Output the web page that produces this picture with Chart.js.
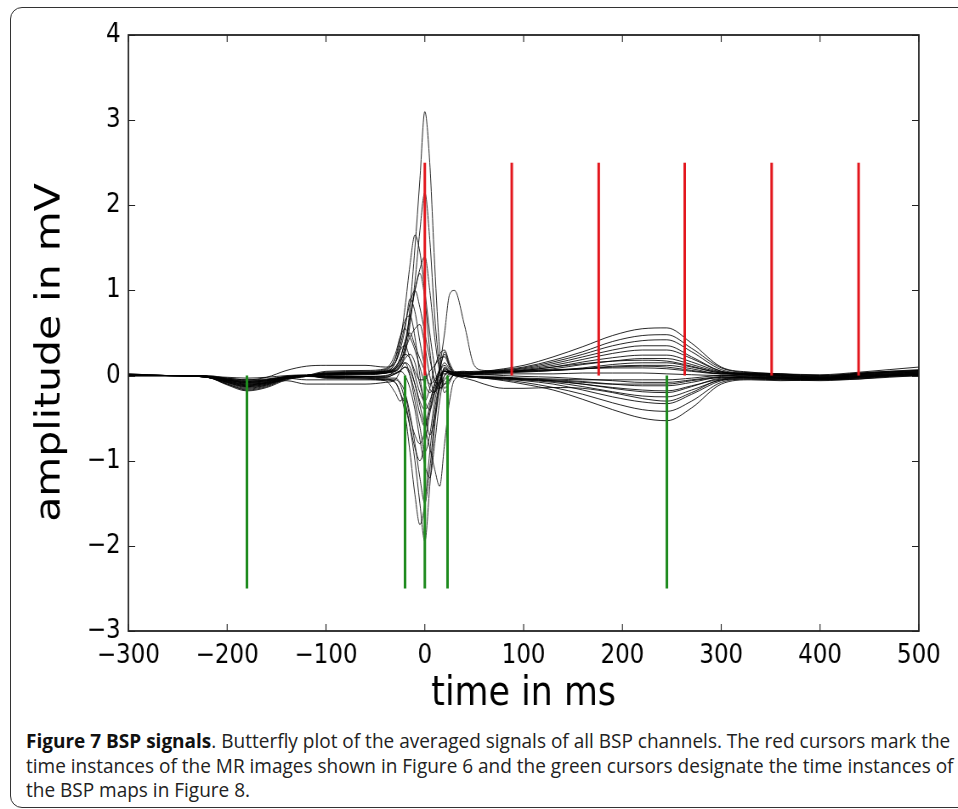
<!DOCTYPE html>
<html>
<head>
<meta charset="utf-8">
<script src="https://cdn.jsdelivr.net/npm/chart.js@4.4.0/dist/chart.umd.min.js"></script>
<style>
  html, body { margin: 0; padding: 0; background: #fff; }
  body { width: 958px; height: 809px; position: relative; overflow: hidden; }
  .frame { position: absolute; left: 10px; top: 7px; width: 970px; height: 799px;
           border: 1.5px solid #333; border-radius: 12px; }
  /* the figure is slightly condensed horizontally, so draw wider and squeeze */
  .plot { position: absolute; left: 0; top: 0; width: 1127px; height: 720px;
          transform: scaleX(0.85); transform-origin: 0 0; }
  .caption { position: absolute; left: 26px; top: 729px; font-family: "Open Sans", sans-serif;
             font-size: 20px; line-height: 24.5px; color: #222; white-space: nowrap;
             transform: scaleX(0.95); transform-origin: 0 0; }
  .caption b { color: #111; }
</style>
</head>
<body>
<div class="frame"></div>
<div class="plot"><canvas id="chart"></canvas></div>
<div class="caption"><b>Figure 7 BSP signals</b>. Butterfly plot of the averaged signals of all BSP channels. The red cursors mark the<br>time instances of the MR images shown in Figure 6 and the green cursors designate the time instances of<br>the BSP maps in Figure 8.</div>
<script>
// time axis in ms
const times = [-300, -260, -220, -200, -180, -160, -140, -120, -100, -60, -40,
  -30, -25, -20, -15, -10, -5, 0, 5, 10, 15, 20, 25, 30,
  40, 50, 60, 80, 100, 130, 160, 190, 220, 245, 270, 300,
  330, 360, 400, 440, 470, 500];

// averaged BSP channels (mV)
const ch01 = [0.02, 0.0, -0.01, -0.05, -0.08, -0.06, -0.02, 0.0, 0.03, 0.04, 0.05,
  0.06, 0.12, 0.3, 0.8, 1.5, 2.3, 3.1, 2.5, 1.3, 0.3, -0.15, -0.05, 0.03,
  0.05, 0.04, 0.05, 0.08, 0.12, 0.22, 0.34, 0.47, 0.55, 0.56, 0.38, 0.1,
  0.04, 0.02, -0.01, 0.03, 0.05, 0.07];
const ch02 = [0.01, 0.0, -0.01, -0.07, -0.12, -0.09, -0.03, 0.0, 0.02, 0.03, 0.04,
  0.05, 0.1, 0.25, 0.6, 1.1, 1.7, 2.15, 1.6, 0.7, 0.1, -0.2, -0.08, 0.02,
  0.04, 0.04, 0.05, 0.07, 0.1, 0.18, 0.28, 0.4, 0.47, 0.48, 0.32, 0.09,
  0.03, 0.01, -0.02, 0.02, 0.04, 0.05];
const ch03 = [0.02, 0.0, -0.02, -0.1, -0.16, -0.12, -0.04, -0.01, 0.04, 0.05, 0.07,
  0.2, 0.4, 0.8, 1.3, 1.65, 1.45, 1.0, 0.5, 0.1, -0.15, -0.1, 0.0, 0.03,
  0.03, 0.03, 0.04, 0.06, 0.09, 0.16, 0.25, 0.35, 0.41, 0.42, 0.28, 0.07,
  0.02, 0.0, -0.03, 0.01, 0.03, 0.04];
const ch04 = [0.0, 0.0, -0.01, -0.04, -0.07, -0.05, -0.01, 0.0, 0.01, 0.02, 0.03,
  0.08, 0.15, 0.35, 0.65, 1.0, 1.25, 1.4, 1.0, 0.45, 0.05, -0.1, -0.05, 0.01,
  0.02, 0.03, 0.04, 0.06, 0.08, 0.14, 0.22, 0.3, 0.35, 0.35, 0.22, 0.05,
  0.01, -0.01, -0.03, 0.0, 0.02, 0.03];
const ch05 = [0.01, 0.0, -0.02, -0.08, -0.13, -0.1, -0.03, 0.0, 0.02, 0.03, 0.05,
  0.15, 0.35, 0.6, 0.85, 1.0, 0.8, 0.5, 0.2, -0.05, -0.1, 0.0, 0.05, 0.04,
  0.04, 0.03, 0.04, 0.05, 0.07, 0.12, 0.19, 0.26, 0.3, 0.3, 0.2, 0.05,
  0.02, 0.01, -0.02, 0.02, 0.04, 0.04];
const ch06 = [0.0, 0.0, -0.02, -0.11, -0.18, -0.14, -0.05, -0.01, 0.03, 0.04, 0.06,
  0.2, 0.45, 0.65, 0.7, 0.45, 0.0, -0.4, -0.7, -0.5, -0.15, 0.1, 0.05, 0.02,
  0.02, 0.02, 0.03, 0.04, 0.06, 0.1, 0.16, 0.21, 0.24, 0.24, 0.16, 0.04,
  0.0, -0.03, -0.04, -0.01, 0.01, 0.02];
const ch07 = [0.01, 0.0, -0.01, -0.06, -0.1, -0.08, -0.02, 0.0, 0.05, 0.06, 0.08,
  0.25, 0.45, 0.55, 0.45, 0.3, 0.1, -0.1, -0.2, -0.1, 0.05, 0.15, 0.08, 0.03,
  0.03, 0.02, 0.03, 0.04, 0.05, 0.08, 0.13, 0.17, 0.2, 0.2, 0.13, 0.04,
  0.03, 0.02, 0.0, 0.03, 0.05, 0.06];
const ch08 = [0.0, 0.0, -0.01, -0.04, -0.06, -0.05, -0.01, 0.0, 0.0, 0.01, 0.03,
  0.15, 0.3, 0.35, 0.2, 0.0, -0.2, -0.3, -0.15, 0.1, 0.25, 0.3, 0.15, 0.05,
  0.03, 0.02, 0.02, 0.03, 0.04, 0.06, 0.09, 0.13, 0.15, 0.15, 0.1, 0.03,
  0.01, -0.02, -0.03, 0.0, 0.01, 0.03];
const ch09 = [0.0, 0.0, -0.02, -0.09, -0.15, -0.11, -0.03, 0.0, 0.01, 0.02, 0.03,
  0.05, 0.1, 0.2, 0.25, 0.15, -0.1, -0.3, -0.4, -0.2, 0.1, 0.5, 0.95, 1.0,
  0.6, 0.12, 0.06, 0.05, 0.05, 0.06, 0.08, 0.1, 0.11, 0.1, 0.06, 0.02,
  0.01, 0.0, -0.02, 0.01, 0.03, 0.04];
const ch10 = [0.0, 0.0, -0.01, -0.05, -0.09, -0.07, -0.02, 0.0, -0.02, -0.01, 0.0,
  0.03, 0.06, 0.1, 0.05, -0.1, -0.35, -0.6, -0.85, -1.1, -1.3, -0.8, -0.3, -0.05,
  0.0, -0.02, -0.03, -0.04, -0.05, -0.06, -0.08, -0.1, -0.1, -0.1, -0.06, -0.02,
  -0.01, -0.02, -0.04, -0.01, 0.01, 0.02];
const ch11 = [0.0, 0.0, 0.0, -0.03, -0.05, -0.04, -0.01, 0.0, -0.03, -0.04, -0.05,
  -0.05, -0.1, -0.3, -0.6, -1.0, -1.5, -1.95, -1.3, -0.6, -0.15, 0.05, 0.05, 0.02,
  -0.01, -0.02, -0.03, -0.06, -0.1, -0.17, -0.28, -0.4, -0.5, -0.53, -0.38, -0.1,
  -0.05, -0.06, -0.05, -0.04, -0.01, 0.0];
const ch12 = [0.01, 0.0, -0.01, -0.04, -0.07, -0.05, -0.02, 0.0, -0.02, -0.03, -0.05,
  -0.08, -0.2, -0.45, -0.9, -1.4, -1.75, -1.5, -0.9, -0.4, -0.1, 0.08, 0.04, 0.01,
  -0.01, -0.02, -0.03, -0.05, -0.08, -0.14, -0.22, -0.32, -0.4, -0.42, -0.3, -0.08,
  -0.04, -0.05, -0.04, -0.03, 0.0, 0.01];
const ch13 = [0.0, 0.0, -0.01, -0.05, -0.08, -0.06, -0.02, 0.0, -0.01, -0.02, -0.03,
  -0.03, -0.08, -0.2, -0.45, -0.8, -1.2, -1.5, -1.1, -0.5, -0.1, 0.05, 0.03, 0.01,
  0.0, -0.01, -0.02, -0.04, -0.06, -0.1, -0.17, -0.25, -0.31, -0.33, -0.22, -0.06,
  -0.03, -0.04, -0.05, -0.02, 0.0, 0.01];
const ch14 = [0.0, 0.0, -0.01, -0.06, -0.1, -0.08, -0.02, 0.0, -0.01, -0.01, -0.02,
  0.02, 0.05, 0.0, -0.15, -0.4, -0.75, -1.05, -1.2, -0.8, -0.3, 0.0, 0.05, 0.02,
  0.0, -0.01, -0.02, -0.03, -0.05, -0.08, -0.13, -0.19, -0.24, -0.25, -0.17, -0.05,
  -0.02, -0.03, -0.04, -0.02, 0.0, 0.01];
const ch15 = [0.0, 0.0, -0.02, -0.1, -0.17, -0.13, -0.04, -0.01, -0.02, -0.03, -0.04,
  -0.08, -0.2, -0.35, -0.6, -0.85, -1.0, -0.8, -0.45, -0.2, -0.05, 0.05, 0.03, 0.0,
  0.0, -0.01, -0.01, -0.02, -0.04, -0.06, -0.1, -0.14, -0.17, -0.18, -0.12, -0.04,
  -0.02, -0.03, -0.03, -0.01, 0.0, 0.01];
const ch16 = [0.0, 0.0, -0.02, -0.08, -0.13, -0.1, -0.03, -0.05, -0.05, -0.05, -0.06,
  -0.2, -0.3, -0.25, -0.5, -0.7, -0.8, -0.65, -0.35, -0.1, 0.0, 0.02, 0.02, 0.0,
  -0.01, -0.02, -0.02, -0.03, -0.04, -0.05, -0.07, -0.1, -0.12, -0.12, -0.08, -0.02,
  -0.03, -0.04, -0.05, -0.03, -0.01, 0.0];
const ch17 = [0.0, 0.0, -0.01, -0.03, -0.05, -0.02, 0.06, 0.11, 0.12, 0.12, 0.1,
  0.15, 0.3, 0.55, 0.9, 0.75, 0.4, 0.1, -0.15, -0.2, -0.05, 0.08, 0.05, 0.02,
  0.02, 0.02, 0.03, 0.04, 0.05, 0.06, 0.08, 0.11, 0.12, 0.12, 0.08, 0.02,
  0.02, 0.01, 0.0, 0.02, 0.04, 0.06];
const ch18 = [0.0, 0.0, -0.02, -0.07, -0.11, -0.09, -0.06, -0.1, -0.1, -0.1, -0.08,
  -0.05, 0.05, 0.15, 0.1, -0.1, -0.3, -0.4, -0.3, -0.1, 0.05, 0.12, 0.06, 0.02,
  0.0, -0.01, -0.02, -0.02, -0.03, -0.04, -0.05, -0.05, -0.05, -0.05, -0.03, 0.0,
  -0.02, -0.03, -0.04, -0.02, 0.0, 0.02];
const ch19 = [0.01, 0.0, -0.01, -0.05, -0.08, -0.06, -0.02, 0.0, 0.02, 0.02, 0.03,
  0.08, 0.18, 0.25, 0.2, 0.05, -0.05, -0.05, 0.05, 0.12, 0.2, 0.22, 0.1, 0.03,
  0.02, 0.01, 0.01, 0.0, -0.01, -0.02, -0.04, -0.06, -0.08, -0.08, -0.05, -0.01,
  0.01, -0.01, -0.02, 0.01, 0.02, 0.05];
const ch20 = [0.0, 0.0, -0.01, -0.05, -0.09, -0.07, -0.02, 0.0, -0.03, -0.02, -0.02,
  0.02, 0.05, 0.1, 0.0, -0.2, -0.45, -0.6, -0.4, -0.15, 0.0, 0.05, 0.02, 0.0,
  -0.03, -0.06, -0.1, -0.15, -0.15, -0.14, -0.15, -0.2, -0.27, -0.3, -0.2, -0.05,
  -0.04, -0.05, -0.06, -0.04, -0.02, 0.0];
const ch21 = [0.0, 0.0, -0.01, -0.02, -0.03, -0.02, 0.0, 0.01, 0.02, 0.03, 0.04,
  0.1, 0.2, 0.4, 0.5, 0.35, 0.2, 0.05, -0.1, -0.05, 0.08, 0.25, 0.12, 0.04,
  0.04, 0.05, 0.05, 0.05, 0.06, 0.07, 0.08, 0.09, 0.09, 0.08, 0.05, 0.02,
  0.03, 0.02, 0.01, 0.04, 0.07, 0.1];
const ch22 = [0.01, 0.0, -0.01, -0.07, -0.12, -0.09, -0.03, 0.0, 0.02, 0.03, 0.05,
  0.1, 0.2, 0.4, 0.7, 1.0, 1.2, 0.9, 0.3, -0.1, -0.15, -0.05, 0.02, 0.03,
  0.02, 0.03, 0.03, 0.04, 0.06, 0.1, 0.14, 0.17, 0.18, 0.17, 0.11, 0.03,
  0.02, 0.0, -0.01, 0.02, 0.04, 0.06];
const ch23 = [0.0, 0.0, -0.01, -0.06, -0.11, -0.08, -0.02, 0.0, -0.01, -0.01, -0.01,
  0.06, 0.12, 0.15, 0.0, -0.3, -0.6, -0.9, -0.7, -0.3, -0.05, 0.06, 0.03, 0.0,
  -0.01, -0.02, -0.02, -0.03, -0.04, -0.07, -0.1, -0.15, -0.19, -0.2, -0.13, -0.03,
  -0.02, -0.03, -0.03, -0.01, 0.01, 0.02];
const ch24 = [0.0, 0.0, -0.01, -0.08, -0.14, -0.11, -0.03, 0.0, 0.01, 0.02, 0.03,
  0.08, 0.15, 0.3, 0.45, 0.55, 0.6, 0.35, 0.0, -0.2, 0.05, 0.28, 0.12, 0.03,
  0.01, 0.01, 0.01, 0.02, 0.02, 0.02, 0.03, 0.03, 0.03, 0.02, 0.01, 0.0,
  0.0, -0.02, -0.03, 0.0, 0.02, 0.03];

const channels = [ch01, ch02, ch03, ch04, ch05, ch06, ch07, ch08, ch09, ch10, ch11, ch12,
  ch13, ch14, ch15, ch16, ch17, ch18, ch19, ch20, ch21, ch22, ch23, ch24];

// cursors (ms)
const redCursors = [0, 88, 176, 263, 351, 439];   // MR image instants
const greenCursors = [-180, -20, 0, 23, 245];     // BSP map instants
const redTop = 2.5;
const greenBottom = -2.5;

const xTicks = [-300, -200, -100, 0, 100, 200, 300, 400, 500];
const yTicks = [-3, -2, -1, 0, 1, 2, 3, 4];

function minus(v) {
    return v < 0 ? '\u2212' + Math.abs(v) : String(v);
}

const datasets = [];
redCursors.forEach(t => {
    datasets.push({ data: [{x: t, y: 0}, {x: t, y: redTop}], borderColor: '#e3161d',
        borderWidth: 3, pointRadius: 0, order: 0 });
});
greenCursors.forEach(t => {
    datasets.push({ data: [{x: t, y: 0}, {x: t, y: greenBottom}], borderColor: '#1d8a1d',
        borderWidth: 3, pointRadius: 0, order: 0 });
});
channels.forEach(ch => {
    datasets.push({
        data: times.map((t, i) => ({x: t, y: ch[i]})),
        borderColor: 'rgba(0,0,0,0.85)',
        borderWidth: 1,
        pointRadius: 0,
        cubicInterpolationMode: 'monotone',
        order: 1
    });
});

// matplotlib-like box with inward ticks
const boxTicks = {
    id: 'boxTicks',
    afterDraw(chart) {
        const {ctx, chartArea: a, scales: {x, y}} = chart;
        ctx.save();
        ctx.strokeStyle = '#222';
        ctx.lineWidth = 1.1;
        ctx.beginPath();
        xTicks.forEach(v => {
            const px = x.getPixelForValue(v);
            ctx.moveTo(px, a.bottom); ctx.lineTo(px, a.bottom - 7);
            ctx.moveTo(px, a.top); ctx.lineTo(px, a.top + 7);
        });
        yTicks.forEach(v => {
            const py = Math.round(y.getPixelForValue(v)) + 0.5;
            ctx.moveTo(a.left, py); ctx.lineTo(a.left + 8, py);
            ctx.moveTo(a.right, py); ctx.lineTo(a.right - 8, py);
        });
        ctx.stroke();
        ctx.lineWidth = 1.8;
        ctx.strokeRect(a.left, a.top, a.right - a.left, a.bottom - a.top);
        ctx.restore();
    }
};

const chartDisplay = document.getElementById('chart');
new Chart(chartDisplay, {
    type: 'line',
    data: { datasets: datasets },
    plugins: [boxTicks],
    options: {
        animation: false,
        responsive: true,
        maintainAspectRatio: false,
        layout: { padding: { top: 35, right: 46, left: 0, bottom: 0 } },
        plugins: { legend: { display: false }, tooltip: { enabled: false } },
        scales: {
            x: {
                type: 'linear',
                min: -300,
                max: 500,
                afterFit: s => { s.height = 89; },
                afterBuildTicks: s => { s.ticks = xTicks.map(v => ({value: v})); },
                grid: { display: false, drawTicks: false },
                border: { display: false },
                ticks: {
                    color: '#000',
                    padding: 9,
                    maxRotation: 0,
                    font: { family: 'DejaVu Sans', size: 27 },
                    callback: v => minus(v)
                },
                title: {
                    display: true,
                    text: 'time in ms',
                    color: '#000',
                    font: { family: 'DejaVu Sans', size: 41 },
                    padding: { top: 0, bottom: 1 }
                }
            },
            y: {
                min: -3,
                max: 4,
                afterFit: s => { s.width = 151; },
                afterBuildTicks: s => { s.ticks = yTicks.map(v => ({value: v})); },
                grid: { display: false, drawTicks: false },
                border: { display: false },
                ticks: {
                    color: '#000',
                    padding: 9,
                    font: { family: 'DejaVu Sans', size: 27 },
                    callback: v => minus(v)
                },
                title: {
                    display: true,
                    // trailing spaces push the label a little lower, as in the figure
                    text: 'amplitude in mV   ',
                    color: '#000',
                    font: { family: 'DejaVu Sans', size: 41 },
                    padding: { top: 35, bottom: 0 }
                }
            }
        }
    }
});
</script>
</body>
</html>
